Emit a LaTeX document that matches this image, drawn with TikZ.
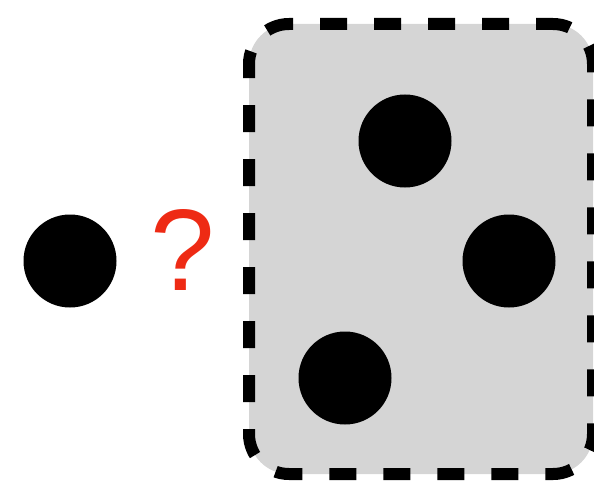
\documentclass[tikz,border=0pt]{standalone}
\usepackage{fontspec}
\setmainfont{Liberation Sans}
\usepackage{tikz}
\usetikzlibrary{positioning}
\definecolor{GRPfill}{HTML}{D5D5D5}
\definecolor{QMred}{HTML}{EE2A14}
\tikzset{
  dot/.style={circle, fill=black, draw=none, minimum size=93pt, inner sep=0pt},
  groupbox/.style={rectangle, rounded corners=40pt, fill=GRPfill, draw=black,
    line width=12pt, dash pattern=on 27pt off 27pt, dash phase=10pt,
    minimum width=344pt, minimum height=450pt, inner sep=0pt},
  qmark/.style={text=QMred, inner sep=0pt, font=\fontsize{116}{116}\selectfont},
}
\begin{document}
\begin{tikzpicture}[x=1pt, y=-1pt]
  \useasboundingbox (0,0) rectangle (594,484);
  %% Group of points
  \node[groupbox] (group) at (421,249) {};
  \node[dot] (p1) at (405,141) {};
  \node[dot] (p2) at (509,261) {};
  \node[dot] (p3) at (345,378) {};
  %% Query point
  \node[dot] (query) at (70,261) {};
  \node[qmark] (ask) at (183,250) {?};
\end{tikzpicture}
\end{document}
